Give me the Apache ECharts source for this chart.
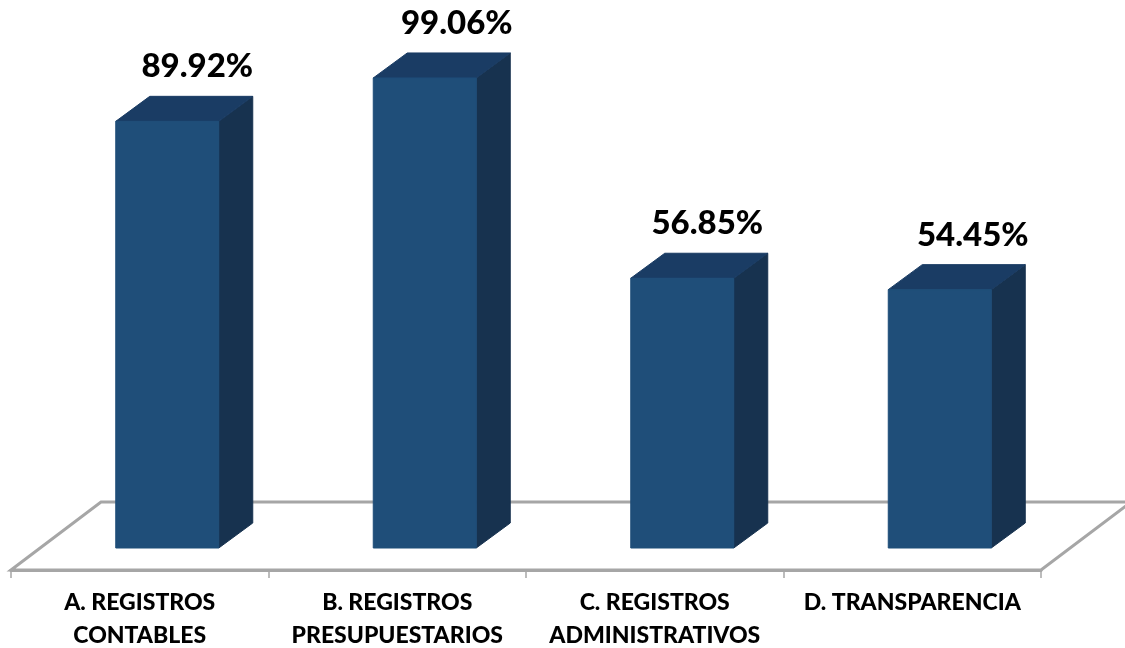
<!DOCTYPE html>
<html>
<head>
<meta charset="utf-8">
<style>html,body{margin:0;padding:0;background:#fff}#c{width:1125px;height:648px}</style>
<script src="https://cdn.jsdelivr.net/npm/echarts@6/dist/echarts.min.js"></script>
</head>
<body>
<div id="c"></div>
<script>
var categories = ['A. REGISTROS\nCONTABLES', 'B. REGISTROS\nPRESUPUESTARIOS', 'C. REGISTROS\nADMINISTRATIVOS', 'D. TRANSPARENCIA'];
var values = [89.92, 99.06, 56.85, 54.45];
var labels = ['89.92%', '99.06%', '56.85%', '54.45%'];

var DEPTH_X = 34, DEPTH_Y = 25, BAR_W = 103, BAR_SHIFT = 27.5;
var LABEL_DX = [30, 32, 25, 33], LABEL_DY = -54.5;
var FLOOR_FRONT = 22, FLOOR_BACK = 46, FLOOR_SKEW = 90;
var FONT = 'Lato, "Open Sans", sans-serif';
var chart = echarts.init(document.getElementById('c'), null, {renderer: 'canvas'});

function renderFloor(params, api) {
  var base = api.coord([0, 0]);
  var band = api.size([1, 0])[0];
  var x0 = base[0] - band / 2;
  var x1 = x0 + band * categories.length;
  var yF = base[1] + FLOOR_FRONT, yB = base[1] - FLOOR_BACK;
  return {
    type: 'polygon',
    silent: true,
    shape: {points: [[x0, yF], [x0 + FLOOR_SKEW, yB], [x1 + FLOOR_SKEW, yB], [x1, yF]]},
    style: {fill: '#ffffff', stroke: '#a6a6a6', lineWidth: 3}
  };
}

function renderBar(params, api) {
  var i = api.value(0), v = api.value(1);
  var base = api.coord([i, 0]), top = api.coord([i, v]);
  var l = base[0] + BAR_SHIFT - BAR_W / 2, r = l + BAR_W;
  var yB = base[1], yT = top[1];
  return {
    type: 'group',
    children: [
      {type: 'polygon', shape: {points: [[r, yT], [r + DEPTH_X, yT - DEPTH_Y], [r + DEPTH_X, yB - DEPTH_Y], [r, yB]]},
        style: {fill: '#17324f', stroke: '#17324f', lineWidth: 1}},
      {type: 'polygon', shape: {points: [[l, yT], [l + DEPTH_X, yT - DEPTH_Y], [r + DEPTH_X, yT - DEPTH_Y], [r, yT]]},
        style: {fill: '#1a3c64', stroke: '#1a3c64', lineWidth: 1}},
      {type: 'rect', shape: {x: l, y: yT, width: BAR_W, height: yB - yT},
        style: {fill: '#1f4e79', stroke: '#1f4e79', lineWidth: 1}},
      {type: 'text', x: (l + r) / 2 + LABEL_DX[i], y: yT + LABEL_DY,
        style: {text: labels[i], fill: '#000', font: '900 33px ' + FONT, textAlign: 'center', textVerticalAlign: 'middle'}}
    ]
  };
}

chart.setOption({
  animation: false,
  backgroundColor: '#fff',
  grid: {left: 11, width: 1030, top: 73.5, bottom: 100, outerBoundsMode: 'none'},
  xAxis: {
    type: 'category',
    data: categories,
    offset: 22,
    z: 5,
    axisLine: {show: true, onZero: false, lineStyle: {color: '#a6a6a6', width: 3}},
    axisTick: {show: true, alignWithLabel: false, length: 8, lineStyle: {color: '#a6a6a6', width: 1.5}},
    axisLabel: {color: '#000', fontFamily: 'Lato, "Open Sans", sans-serif', fontWeight: 900, fontSize: 23, lineHeight: 33, margin: 16, interval: 0}
  },
  yAxis: {type: 'value', min: 0, max: 100, show: false, splitLine: {show: false}},
  series: [
    {type: 'custom', z: 1, clip: false, renderItem: renderFloor, data: [[0, 0]], silent: true},
    {type: 'custom', z: 2, clip: false, renderItem: renderBar, encode: {x: 0, y: 1},
      data: values.map(function (v, i) { return [i, v]; })}
  ]
});
</script>
</body>
</html>
